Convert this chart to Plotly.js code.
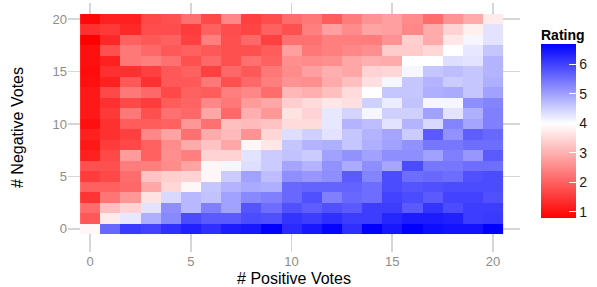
<!DOCTYPE html>
<html>
<head>
<meta charset="utf-8">
<script src="https://cdn.plot.ly/plotly-3.0.1.min.js"></script>
<style>html,body{margin:0;padding:0;background:#fff;}#chart{width:597px;height:287px;}</style>
</head>
<body>
<div id="chart"></div>
<script>
// Positive votes (x) and negative votes (y)
const positiveVotes = [0,1,2,3,4,5,6,7,8,9,10,11,12,13,14,15,16,17,18,19,20];
const negativeVotes = [0,1,2,3,4,5,6,7,8,9,10,11,12,13,14,15,16,17,18,19,20];
// Rating for each (negative votes row, positive votes column)
const ratingNeg0  = [3.9,5.6,6.1,6.0,6.2,6.35,6.2,6.4,6.45,6.7,6.25,6.45,6.65,6.2,6.7,6.45,6.7,6.55,6.5,6.5,6.7];
const ratingNeg1  = [1.9,3.75,4.25,4.85,5.25,5.9,5.75,5.75,5.9,5.85,6.15,6.05,6.2,6.05,6.05,6.3,6.4,6.4,6.35,6.05,6.1];
const ratingNeg2  = [2.15,3.2,3.45,4.3,5.2,4.75,5.35,5.0,5.8,5.55,5.85,5.7,5.85,5.75,6.05,6.05,5.75,6.15,5.9,6.05,6.05];
const ratingNeg3  = [1.45,2.25,2.7,3.65,4.4,4.75,4.65,5.0,5.25,5.35,5.6,5.85,5.35,5.6,5.55,6.0,5.9,5.75,6.0,6.0,5.85];
const ratingNeg4  = [2.0,2.0,2.1,2.9,3.5,3.9,4.6,4.8,4.9,4.85,5.6,5.65,5.65,5.65,5.55,5.9,5.8,5.85,5.9,5.9,5.9];
const ratingNeg5  = [1.55,1.7,2.15,3.25,3.4,3.45,3.9,4.55,5.0,4.7,5.2,5.1,5.2,5.75,5.3,5.9,5.55,5.6,5.55,5.85,5.9];
const ratingNeg6  = [1.8,1.8,2.35,2.4,2.55,2.85,3.9,4.1,4.35,4.55,4.95,4.8,5.15,4.9,5.2,4.95,5.9,5.45,5.45,5.55,5.55];
const ratingNeg7  = [1.2,1.7,2.75,2.0,2.6,2.4,3.45,3.45,4.3,4.55,4.65,4.55,5.0,5.15,5.0,5.2,5.2,5.0,5.35,5.1,5.75];
const ratingNeg8  = [1.1,1.55,1.7,2.0,2.55,2.95,3.25,2.9,3.9,3.7,4.6,4.8,4.85,4.6,4.85,5.0,5.15,5.45,5.45,5.55,5.55];
const ratingNeg9  = [1.2,1.4,1.6,2.5,2.85,2.2,2.95,3.15,2.65,3.5,4.35,4.5,4.3,4.6,4.8,4.95,4.55,5.75,5.15,5.7,5.6];
const ratingNeg10 = [1.0,1.4,1.95,1.95,2.0,2.7,2.2,3.2,3.15,3.25,3.55,3.55,4.25,4.8,4.7,4.3,4.8,4.4,5.3,4.95,5.35];
const ratingNeg11 = [1.1,1.5,2.3,1.8,2.2,2.1,2.9,2.1,3.0,2.7,3.65,3.45,4.25,4.45,4.1,4.5,4.5,5.0,4.3,4.85,5.35];
const ratingNeg12 = [1.1,1.4,1.7,1.55,1.95,2.05,2.5,2.3,2.75,2.9,3.4,3.55,3.7,3.6,4.5,4.2,4.65,4.1,4.1,5.2,5.3];
const ratingNeg13 = [1.1,1.7,2.3,2.1,1.7,2.0,1.95,2.4,2.5,2.15,3.1,3.0,3.2,3.55,4.0,4.6,4.6,4.85,4.9,4.6,5.0];
const ratingNeg14 = [1.0,1.2,1.9,1.4,1.9,1.9,2.3,1.8,2.1,2.4,2.65,2.6,2.95,3.2,3.6,4.1,4.6,4.8,4.55,4.6,4.85];
const ratingNeg15 = [0.95,1.4,1.4,1.6,1.9,2.0,1.6,2.1,1.9,2.3,2.55,2.8,3.0,2.9,3.45,3.5,4.1,4.6,4.7,4.6,4.8];
const ratingNeg16 = [1.0,1.2,2.3,2.4,2.2,1.8,2.1,1.8,2.2,2.0,2.6,2.55,2.6,2.9,3.0,2.95,4.0,4.0,4.35,4.3,4.8];
const ratingNeg17 = [1.0,1.8,2.3,2.1,1.9,2.0,1.9,1.8,1.8,1.95,2.8,2.3,2.4,2.5,2.6,3.35,3.35,3.5,4.0,4.25,4.6];
const ratingNeg18 = [0.8,1.3,2.0,1.9,2.0,1.6,2.4,1.8,2.1,1.6,2.2,2.2,2.4,2.4,2.35,2.65,3.4,2.95,3.7,4.1,4.3];
const ratingNeg19 = [1.4,1.5,1.3,1.75,1.75,1.55,2.0,1.75,1.65,2.0,1.8,2.4,2.8,2.55,2.85,2.8,2.5,2.95,3.45,3.8,4.3];
const ratingNeg20 = [0.9,1.2,1.2,1.7,1.8,2.2,1.7,2.5,1.6,1.75,2.15,2.3,1.95,2.35,2.65,2.8,2.55,2.15,2.65,2.95,3.75];
const colorbarTicks = [1,2,3,4,5,6];

const z = [ratingNeg0,ratingNeg1,ratingNeg2,ratingNeg3,ratingNeg4,ratingNeg5,ratingNeg6,ratingNeg7,
  ratingNeg8,ratingNeg9,ratingNeg10,ratingNeg11,ratingNeg12,ratingNeg13,ratingNeg14,ratingNeg15,
  ratingNeg16,ratingNeg17,ratingNeg18,ratingNeg19,ratingNeg20];

const zmin = 0.8, zmax = 6.7, mid = 4;
const midFrac = (mid - zmin) / (zmax - zmin);

const trace = {
  type: 'heatmap',
  x: positiveVotes,
  y: negativeVotes,
  z: z,
  zmin: zmin,
  zmax: zmax,
  colorscale: [[0,'#ff0000'],[midFrac,'#ffffff'],[1,'#0000ff']],
  xgap: 0, ygap: 0,
  hoverinfo: 'skip',
  colorbar: {
    xref: 'container', yref: 'container',
    x: 541/597, xanchor: 'left',
    y: 1 - (41 + 195/2)/287, yanchor: 'middle',
    lenmode: 'pixels', len: 195,
    thickness: 35,
    outlinewidth: 0,
    xpad: 0, ypad: 0,
    tickvals: colorbarTicks,
    ticks: 'inside', ticklen: 7, tickcolor: '#ffffff', tickwidth: 1,
    tickfont: {family: 'Liberation Sans, Arial, sans-serif', size: 14, color: '#1a1a1a'},
    title: {text: '<b>Rating</b>', side: 'top', font: {family: 'Liberation Sans, Arial, sans-serif', size: 14, color: '#000'}}
  }
};

const axisFont = {family: 'Liberation Sans, Arial, sans-serif', size: 13, color: '#8c8c8c'};
const titleFont = {family: 'Liberation Sans, Arial, sans-serif', size: 16, color: '#000'};

const layout = {
  width: 597, height: 287,
  margin: {l: 68, r: 77, t: 3, b: 35},
  paper_bgcolor: '#ffffff', plot_bgcolor: '#ffffff',
  xaxis: {
    range: [-1.1, 21.34],
    tickvals: [0,5,10,15,20],
    showgrid: true, gridcolor: '#d6d6d6', gridwidth: 1.6,
    zeroline: false, showline: false,
    ticks: '', tickfont: axisFont,
    title: {text: '# Positive Votes', font: titleFont, standoff: 5}
  },
  yaxis: {
    range: [-2.2, 21.55],
    tickvals: [0,5,10,15,20],
    showgrid: true, gridcolor: '#d6d6d6', gridwidth: 1.6,
    zeroline: false, showline: false,
    ticks: '', tickfont: axisFont,
    title: {text: '# Negative Votes', font: titleFont, standoff: 24}
  }
};

Plotly.newPlot('chart', [trace], layout, {displayModeBar: false, staticPlot: true});
</script>
</body>
</html>
